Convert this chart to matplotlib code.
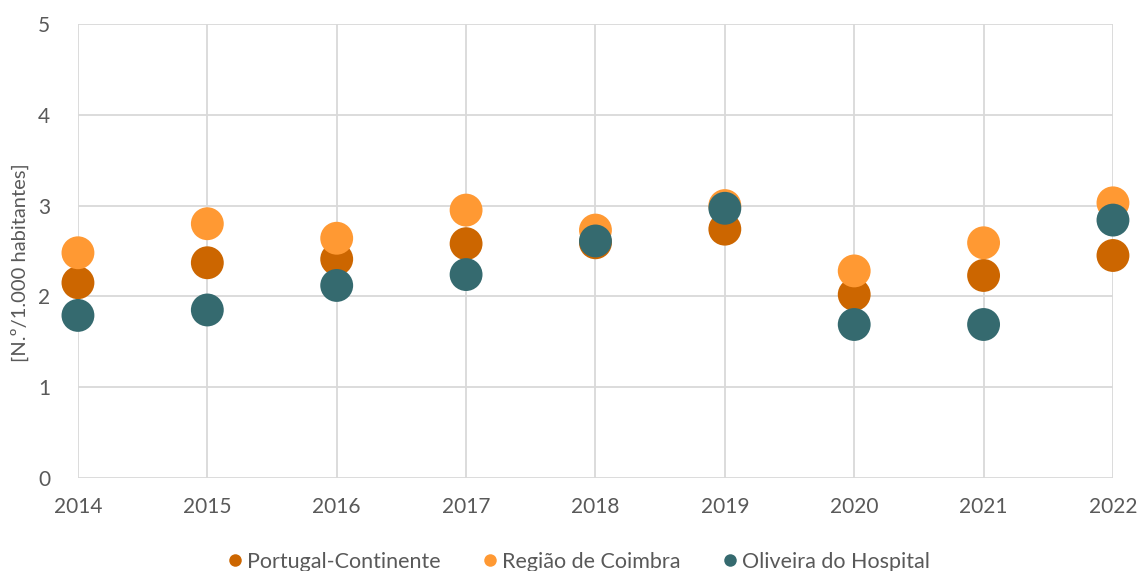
import matplotlib.pyplot as plt
from matplotlib.lines import Line2D

anos = [2014, 2015, 2016, 2017, 2018, 2019, 2020, 2021, 2022]
portugal = [2.15, 2.37, 2.41, 2.58, 2.59, 2.74, 2.02, 2.23, 2.45]
coimbra = [2.48, 2.80, 2.64, 2.95, 2.73, 3.00, 2.28, 2.59, 3.03]
oliveira = [1.79, 1.85, 2.12, 2.24, 2.61, 2.97, 1.69, 1.69, 2.84]

series = [
    ("Portugal-Continente", portugal, "#CC6600"),
    ("Região de Coimbra", coimbra, "#FF9933"),
    ("Oliveira do Hospital", oliveira, "#356A6F"),
]

plt.rcParams['font.family'] = ['Lato', 'DejaVu Sans']
cinza = "#595959"

fig = plt.figure(figsize=(11.38, 5.71), dpi=100)
ax = fig.add_axes([0.0685, 0.163, 0.9095, 0.795])

for nome, vals, cor in series:
    ax.scatter(anos, vals, s=560, color=cor, edgecolors='none', zorder=3, clip_on=False)

ax.set_xlim(2014, 2022)
ax.set_ylim(0, 5)
ax.set_xticks(anos)
ax.set_yticks(range(0, 6))
ax.grid(True, color="#D9D9D9", linewidth=1.3, zorder=0)
for s in ax.spines.values():
    s.set_visible(False)
ax.tick_params(length=0, labelsize=15, labelcolor=cinza)
ax.tick_params(axis='x', pad=14)
ax.tick_params(axis='y', pad=20)
ax.set_ylabel("[N.º/1.000 habitantes]", fontsize=14.5, color=cinza)
ax.yaxis.set_label_coords(-0.047, 0.475)

handles = [Line2D([], [], marker='o', linestyle='none', markersize=9,
                  markerfacecolor=c, markeredgecolor='none', label=n)
           for n, v, c in series]
leg = fig.legend(handles=handles, loc='lower center', ncol=3, frameon=False,
                 bbox_to_anchor=(0.507, -0.035), fontsize=15.5, handletextpad=0.05,
                 columnspacing=1.8, handlelength=1.0)
for t in leg.get_texts():
    t.set_color(cinza)

fig.savefig("out.png", dpi=100)
